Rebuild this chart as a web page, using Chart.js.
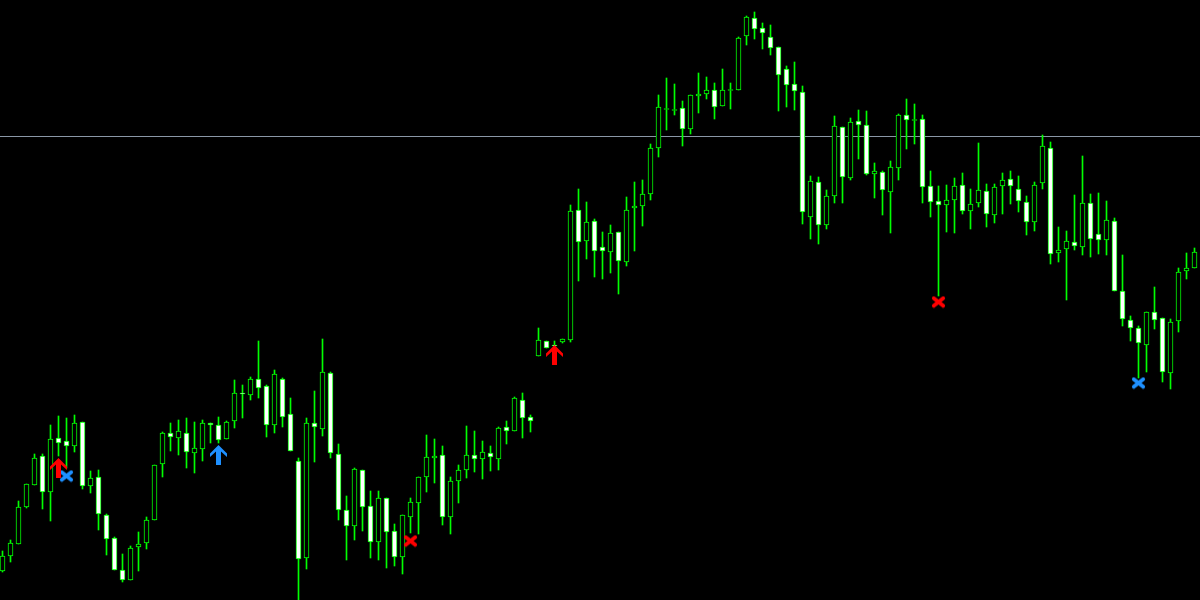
<!DOCTYPE html>
<html><head><meta charset="utf-8">
<script src="https://cdn.jsdelivr.net/npm/chart.js@4/dist/chart.umd.min.js"></script>
<style>html,body{margin:0;padding:0;background:#000;overflow:hidden}#wrap{width:1200px;height:600px}</style>
</head><body><div id="wrap"><canvas id="c" width="1200" height="600"></canvas></div>
<script>
// OHLC values (arbitrary price units), one entry per bar, oldest first
const opens = [29,44,56,93,115,144,108,162,159,154,178,114,123,85,62,30,20,53,57,80,
136,167,162,167,147,151,177,175,161,179,207,205,221,214,175,221,186,139,42,177,
171,227,146,90,74,130,94,58,102,69,43,83,97,123,142,145,83,119,130,145,
141,147,141,173,169,200,183,244,259,255,258,260,390,359,379,353,348,368,338,392,
394,406,452,491,490,492,471,504,506,510,494,510,510,564,582,572,563,553,531,516,
508,383,418,375,404,473,422,479,475,426,428,408,432,485,480,481,414,399,395,400,
415,389,397,409,385,414,421,411,398,378,417,452,347,351,358,353,397,366,360,379,
309,280,272,255,288,282,227,279,329,332];
const highs = [49,60,99,116,146,146,175,184,182,185,178,129,130,86,63,46,54,68,83,135,
168,177,180,182,178,180,177,183,179,220,215,223,259,215,230,222,202,142,182,209,
261,228,156,104,132,130,109,109,102,76,85,102,123,165,161,154,123,135,174,169,
159,154,173,179,203,207,185,272,259,259,261,395,411,398,381,368,375,368,403,418,
420,456,505,522,516,499,505,527,523,517,531,517,563,584,588,577,575,553,534,538,
514,424,423,410,484,473,482,490,489,437,429,439,486,501,496,485,429,414,415,422,
427,411,457,416,416,427,429,424,404,418,465,458,373,369,405,444,406,407,399,382,
345,284,274,288,313,282,281,332,347,352];
const lows = [28,38,56,92,115,91,79,144,132,148,111,107,70,45,30,18,20,29,51,80,
123,149,145,132,127,139,157,157,161,172,182,200,202,163,167,173,149,0,31,138,
164,142,80,40,60,69,42,40,32,34,26,67,66,108,117,75,66,97,122,128,
121,129,130,156,169,162,168,244,252,250,257,258,319,341,323,321,327,306,334,349,
374,400,443,470,485,454,466,487,501,481,494,491,510,555,561,551,545,489,493,490,
376,361,356,371,397,397,420,441,425,402,385,367,420,451,456,397,383,304,368,367,
386,371,393,373,377,386,396,388,365,369,411,336,338,300,350,345,343,346,345,309,
274,259,222,228,271,218,211,268,321,332];
const closes = [44,57,93,116,142,108,161,157,154,177,114,122,86,61,30,20,52,56,80,135,
167,163,169,148,152,177,175,160,178,207,206,221,212,175,226,183,149,41,177,173,
228,147,90,74,131,93,58,102,68,43,85,98,123,143,144,83,119,130,145,141,
148,143,172,169,202,182,179,260,252,254,261,389,358,378,349,349,367,339,390,394,
406,452,493,491,490,471,505,506,510,493,510,510,562,583,571,567,552,525,515,509,
388,419,375,404,474,423,478,475,426,429,410,433,485,480,480,413,398,395,400,414,
389,396,410,386,413,420,414,399,378,415,454,346,350,359,354,397,361,360,380,309,
281,272,257,288,280,228,278,328,332,348];

// signal markers: bar index and price
const redArrowIdx = [7, 69];      const redArrowVal = [132, 245];
const blueArrowIdx = [27];        const blueArrowVal = [145];
const redCrossIdx = [51, 117];    const redCrossVal = [59, 298];
const blueCrossIdx = [8, 142];    const blueCrossVal = [124, 217];
// horizontal price level line
const levelPrice = 463.5;

const GREEN = '#00ff00', RED = '#ff0000', BLUE = '#1e90ff';

function makeArrow(color){
  const c = document.createElement('canvas'); c.width = 17; c.height = 20;
  const g = c.getContext('2d'); g.fillStyle = color; g.beginPath();
  g.moveTo(8.5,0); g.lineTo(17,8.5); g.lineTo(17,12); g.lineTo(11,6.5); g.lineTo(11,20);
  g.lineTo(6,20); g.lineTo(6,6.5); g.lineTo(0,12); g.lineTo(0,8.5); g.closePath(); g.fill();
  return c;
}
function makeCross(color){
  const c = document.createElement('canvas'); c.width = 15; c.height = 13;
  const g = c.getContext('2d'); g.strokeStyle = color; g.lineWidth = 3.8; g.lineCap = 'round';
  g.beginPath(); g.moveTo(2.8,2.8); g.lineTo(12.2,10.2); g.moveTo(12.2,2.8); g.lineTo(2.8,10.2); g.stroke();
  return c;
}

const n = opens.length;
const wickData = [], bodyData = [], bodyFill = [];
for (let i = 0; i < n; i++) {
  wickData.push({x: i, y: [lows[i], highs[i]]});
  let lo = Math.min(opens[i], closes[i]), hi = Math.max(opens[i], closes[i]);
  if (hi - lo < 1) { lo -= 0.5; hi += 0.5; }
  bodyData.push({x: i, y: [lo, hi]});
  bodyFill.push(closes[i] < opens[i] ? '#ffffff' : '#000000');
}
const pts = (idx, val) => idx.map((x, k) => ({x: x, y: val[k]}));
const xMin = -0.3125, xMax = xMin + 150;

new Chart(document.getElementById('c'), {
  type: 'bar',
  data: { datasets: [
    { type: 'line', data: [{x: xMin, y: levelPrice}, {x: xMax, y: levelPrice}], borderColor: '#8a97a6',
      borderWidth: 1, pointRadius: 0, order: 10 },
    { data: wickData, backgroundColor: GREEN, borderWidth: 0, barThickness: 1, grouped: false, order: 5 },
    { data: bodyData, backgroundColor: bodyFill, borderColor: GREEN, borderWidth: 1, borderSkipped: false,
      barThickness: 5, grouped: false, order: 4 },
    { type: 'line', showLine: false, data: pts(redArrowIdx, redArrowVal), pointStyle: makeArrow(RED), pointRadius: 8, order: 0 },
    { type: 'line', showLine: false, data: pts(blueArrowIdx, blueArrowVal), pointStyle: makeArrow(BLUE), pointRadius: 8, order: 0 },
    { type: 'line', showLine: false, data: pts(redCrossIdx, redCrossVal), pointStyle: makeCross(RED), pointRadius: 8, order: 0 },
    { type: 'line', showLine: false, data: pts(blueCrossIdx, blueCrossVal), pointStyle: makeCross(BLUE), pointRadius: 8, order: 0 }
  ]},
  options: {
    responsive: false, animation: false, events: [],
    layout: { padding: 0, autoPadding: false },
    plugins: { legend: { display: false }, tooltip: { enabled: false } },
    scales: {
      x: { type: 'linear', display: false, offset: false, grid: { offset: false }, min: xMin, max: xMax },
      y: { display: false, min: 0, max: 600 }
    }
  }
});
</script></body></html>
